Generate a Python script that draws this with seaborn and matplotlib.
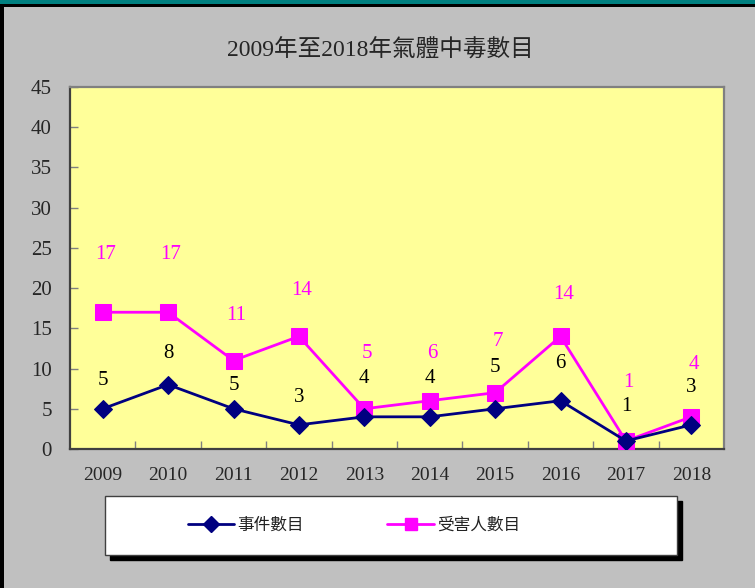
import matplotlib
matplotlib.use("Agg")
import matplotlib.pyplot as plt
from matplotlib.patches import Rectangle
from matplotlib.lines import Line2D
import seaborn as sns
import pandas as pd

years = ["2009", "2010", "2011", "2012", "2013", "2014", "2015", "2016", "2017", "2018"]
incidents = [5, 8, 5, 3, 4, 4, 5, 6, 1, 3]
victims = [17, 17, 11, 14, 5, 6, 7, 14, 1, 4]
series_names = ["事件數目", "受害人數目"]
title = "2009年至2018年氣體中毒數目"
yticks = [0, 5, 10, 15, 20, 25, 30, 35, 40, 45]

# label offsets above markers, in pixels
inc_label_off = [28, 31, 23, 27, 38, 38, 41, 37, 34, 37]
vic_label_off = [58, 58, 45, 46, 55, 47, 51, 42, 58, 52]

sns.set_theme(style="white")
plt.rcParams['font.family'] = ['Liberation Serif', 'Noto Sans CJK TC', 'DejaVu Sans']

W, H = 755, 588
fig = plt.figure(figsize=(W / 100, H / 100), dpi=100)
fig.patch.set_facecolor("#c0c0c0")

# frame decoration
fig.patches.append(Rectangle((0, 1 - 4 / H), 1, 4 / H, transform=fig.transFigure,
                             facecolor="#008080", edgecolor="none", zorder=0))
fig.patches.append(Rectangle((0, 1 - 7 / H), 1, 3 / H, transform=fig.transFigure,
                             facecolor="black", edgecolor="none", zorder=0))
fig.patches.append(Rectangle((0, 0), 4 / W, 1 - 4 / H, transform=fig.transFigure,
                             facecolor="black", edgecolor="none", zorder=0))

ax = fig.add_axes([70 / W, (H - 449) / H, 654 / W, 362 / H])
ax.set_facecolor("#ffff99")

df = pd.DataFrame({"x": list(range(len(years))), "inc": incidents, "vic": victims})
navy = "#000080"
mag = "#ff00ff"
sns.lineplot(data=df, x="x", y="vic", ax=ax, color=mag, linewidth=2.0, marker="s",
             markersize=11, markeredgecolor=mag, zorder=3)
sns.lineplot(data=df, x="x", y="inc", ax=ax, color=navy, linewidth=2.0, marker="D",
             markersize=9, markeredgecolor=navy, zorder=4)

px2pt = 0.72
for i, (a, b) in enumerate(zip(incidents, victims)):
    ax.annotate(str(a), (i, a), xytext=(0, inc_label_off[i] * px2pt), textcoords="offset points",
                ha="center", va="center", fontsize=15, color="black", zorder=5)
    ax.annotate(str(b), (i, b), xytext=(2, vic_label_off[i] * px2pt), textcoords="offset points",
                ha="center", va="center", fontsize=15, color=mag, zorder=5)

ax.set_xlim(-0.5, len(years) - 0.5)
ax.set_ylim(0, 45)
ax.set_yticks(yticks)
ax.set_yticklabels([str(v) for v in yticks])
ax.set_xticks(range(len(years)))
ax.set_xticklabels(years)
ax.set_xticks([i + 0.5 for i in range(len(years) - 1)], minor=True)
ax.tick_params(axis="y", direction="in", length=6, width=1, color="#808080",
               labelsize=15, pad=13, left=True)
ax.tick_params(axis="x", which="major", length=0, labelsize=14, pad=13)
ax.tick_params(axis="x", which="minor", direction="in", length=6, width=1, color="#808080",
               bottom=True)
ax.set_xlabel("")
ax.set_ylabel("")
for s in ax.spines.values():
    s.set_color("#808080")
    s.set_linewidth(1.6)
ax.spines["left"].set_color("#404040")
ax.spines["bottom"].set_color("#404040")
ax.grid(False)

fig.text(380 / W, 1 - 50 / H, title, ha="center", va="center", fontsize=17,
         family=['Liberation Serif', 'Noto Sans CJK TC'], weight="medium")

# legend box with shadow
lx0, ly0, lx1, ly1 = 105, 496, 677, 555
fig.patches.append(Rectangle(((lx0 + 5) / W, (H - ly1 - 5) / H), (lx1 - lx0) / W, (ly1 - ly0) / H,
                             transform=fig.transFigure, facecolor="black", edgecolor="black", zorder=1))
fig.patches.append(Rectangle((lx0 / W, (H - ly1) / H), (lx1 - lx0) / W, (ly1 - ly0) / H,
                             transform=fig.transFigure, facecolor="white", edgecolor="#404040",
                             linewidth=1, zorder=2))
handles = [Line2D([], [], color=navy, linewidth=2, marker="D", markersize=8),
           Line2D([], [], color=mag, linewidth=2, marker="s", markersize=9)]
leg = fig.legend(handles, series_names, loc="center", ncol=2,
                 bbox_to_anchor=(354 / W, 1 - ((ly0 + ly1) / 2) / H),
                 frameon=False, handlelength=2.8, handletextpad=0.2,
                 columnspacing=5.0, prop={'family': ['Noto Sans CJK TC'], 'size': 12,
                                          'weight': 'light'})
for t in leg.get_texts():
    t.set_color("#222222")
leg.set_zorder(3)

fig.savefig("out.png", dpi=100, facecolor=fig.get_facecolor())
